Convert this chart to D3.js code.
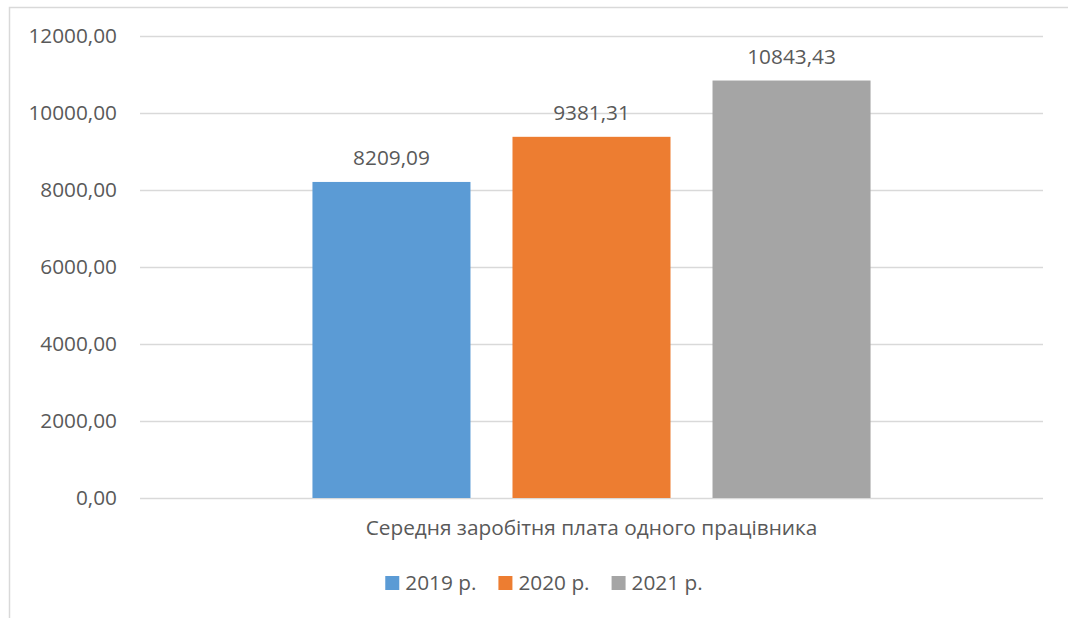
<!DOCTYPE html>
<html>
<head>
<meta charset="utf-8">
<script src="https://cdn.jsdelivr.net/npm/d3@7"></script>
<style>
  html, body { margin: 0; padding: 0; background: #fff; }
  svg { display: block; }
  text { font-family: "Open Sans", "Noto Sans", sans-serif; fill: #595959; }
</style>
</head>
<body>
<svg id="chart" width="1068" height="618"></svg>
<script>
// Average salary per employee, by year
const categories = ["Середня заробітня плата одного працівника"];
const years = ["2019 р.", "2020 р.", "2021 р."];
const values = [8209.09, 9381.31, 10843.43];
const colors = ["#5B9BD5", "#ED7D31", "#A5A5A5"];
const yTicks = [0, 2000, 4000, 6000, 8000, 10000, 12000];

const svg = d3.select("#chart");
const plot = { left: 140, right: 1043, top: 36, bottom: 498 };
const fontSize = 20.8;

// comma decimal formatting, e.g. 8209,09
const fmt = v => d3.format(".2f")(v).replace(".", ",");

// chart area frame
svg.append("rect")
  .attr("x", 9.5).attr("y", 7.5)
  .attr("width", 1100).attr("height", 700)
  .attr("fill", "none").attr("stroke", "#d9d9d9").attr("stroke-width", 1.5);

const y = d3.scaleLinear().domain([0, 12000]).range([plot.bottom, plot.top]);
const x0 = d3.scaleBand().domain(categories).range([plot.left, plot.right])
  .paddingInner(0).paddingOuter(0.309);
const x1 = d3.scaleBand().domain(years).range([0, x0.bandwidth()])
  .paddingInner(0.21).paddingOuter(0);

// gridlines and y tick labels
const yAxis = d3.axisLeft(y).tickValues(yTicks).tickFormat(fmt)
  .tickSize(-(plot.right - plot.left)).tickPadding(23);
const gy = svg.append("g").attr("transform", `translate(${plot.left},0)`).call(yAxis);
gy.select(".domain").remove();
gy.selectAll(".tick line").attr("stroke", "#d9d9d9").attr("stroke-width", 1.3);
gy.selectAll(".tick text")
  .attr("font-size", fontSize).attr("font-family", "Open Sans, Noto Sans, sans-serif")
  .attr("fill", "#595959");

// bars with value labels
const g = svg.append("g");
categories.forEach(cat => {
  const series = years.map((yr, i) => ({ yr, v: values[i], c: colors[i] }));
  g.selectAll(null).data(series).enter().append("rect")
    .attr("x", d => x0(cat) + x1(d.yr))
    .attr("y", d => y(d.v))
    .attr("width", x1.bandwidth())
    .attr("height", d => y(0) - y(d.v))
    .attr("fill", d => d.c);
  g.selectAll(null).data(series).enter().append("text")
    .attr("x", d => x0(cat) + x1(d.yr) + x1.bandwidth() / 2)
    .attr("y", d => y(d.v) - 17)
    .attr("text-anchor", "middle")
    .attr("font-size", fontSize)
    .text(d => fmt(d.v));
  // category label below the axis
  svg.append("text")
    .attr("x", x0(cat) + x0.bandwidth() / 2)
    .attr("y", 535)
    .attr("text-anchor", "middle")
    .attr("font-size", fontSize)
    .text(cat);
});

// legend, centred under the chart area
const legend = svg.append("g");
const items = legend.selectAll("g").data(years).enter().append("g");
items.append("rect").attr("width", 14).attr("height", 14)
  .attr("y", 576).attr("fill", (d, i) => colors[i]);
items.append("text").attr("x", 20).attr("y", 590)
  .attr("font-size", fontSize).text(d => d);
let cx = 0;
const offsets = [];
items.each(function () {
  const tw = d3.select(this).select("text").node().getComputedTextLength();
  offsets.push(cx);
  cx += 20 + tw + 22;
});
const total = cx - 22;
const startX = 544 - total / 2;
items.attr("transform", (d, i) => `translate(${startX + offsets[i]},0)`);
</script>
</body>
</html>
